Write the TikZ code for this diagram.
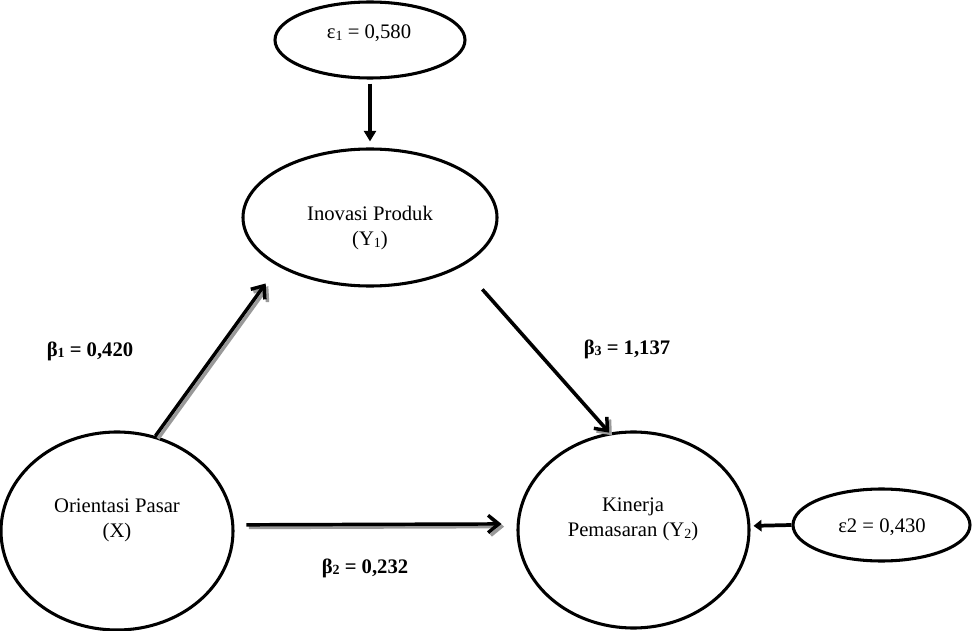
\documentclass[tikz,border=0pt]{standalone}
\usepackage{fontspec}
\setmainfont{Liberation Serif}
\usetikzlibrary{arrows.meta,shapes.geometric}
\newcommand{\lsub}[1]{\raisebox{-0.2ex}{\fontsize{10.5}{10.5}\selectfont #1}}
\begin{document}
\begin{tikzpicture}[x=0.75pt,y=-0.75pt,
  oval/.style={draw, ellipse, line width=2.3pt, inner sep=0pt},
  txt/.style={font=\fontsize{15.5}{18.75}\selectfont, align=center, inner sep=0pt},
  coef/.style={font=\fontsize{15.5}{18.75}\selectfont\bfseries, inner sep=0pt, anchor=base},
  mainarrow/.style={line width=2.6pt, -{Straight Barb[length=8pt,width=13pt]},
     preaction={draw=black!40, line width=2.6pt, -{Straight Barb[length=8pt,width=13pt]},
       transform canvas={shift={(2pt,-2pt)}}}},
  errarrow/.style={line width=2.8pt, -{Triangle[length=8pt,width=9pt]}},
  errarrowb/.style={line width=2.8pt, -{Triangle[length=6pt,width=8.5pt]}}
]
\useasboundingbox (0,0) rectangle (972,631);
\node[oval, minimum width=142.5pt, minimum height=57pt] (e1) at (370,40) {};
\node[txt, anchor=base] (e1t) at (369,39) {ε\lsub{1} = 0,580};
\node[oval, minimum width=190.5pt, minimum height=102.75pt] (iy) at (370,217.5) {};
\node[txt] (iyt) at (370,228) {Inovasi Produk\\(Y\lsub{1})};
\node[oval, minimum width=174pt, minimum height=148.5pt] (ox) at (117,531) {};
\node[txt] (oxt) at (117,520) {Orientasi Pasar\\(X)};
\node[oval, minimum width=173.25pt, minimum height=147pt] (ky) at (633.5,530) {};
\node[txt] (kyt) at (633,519) {Kinerja\\Pemasaran (Y\lsub{2})};
\node[oval, minimum width=132.75pt, minimum height=54pt] (e2) at (881.5,525) {};
\node[txt, anchor=base] (e2t) at (882,532) {ε2 = 0,430};
\node[coef] (b1) at (90,356) {β\lsub{1} = 0,420};
\node[coef] (b3) at (627,354) {β\lsub{3} = 1,137};
\node[coef] (b2) at (365,573) {β\lsub{2} = 0,232};
\draw[errarrow, shorten <=3pt, shorten >=4.5pt] (e1.south) -- (iy.north);
\draw[mainarrow, shorten >=15.8pt] (ox.68) -- (iy.208.5);
\draw[mainarrow, shorten <=23pt] (iy.332.7) -- (ky.104.7);
\draw[mainarrow, shorten <=9pt, shorten >=11.4pt] (ox.3) -- (ky.177.5);
\draw[errarrowb, shorten >=2.3pt] (e2.west) -- (ky.2.5);
\end{tikzpicture}
\end{document}
